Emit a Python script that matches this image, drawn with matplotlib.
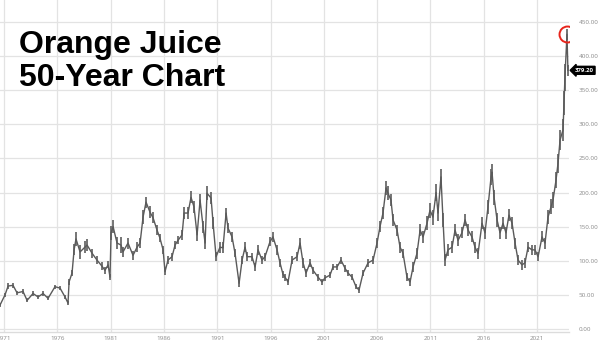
import matplotlib.pyplot as plt

# Orange juice futures, monthly-ish closes
years = [1970.62, 1971.09, 1971.38, 1971.84, 1972.22, 1972.78, 1973.16, 1973.72, 1974.19, 1974.66,
         1975.13, 1975.78, 1976.25, 1976.72, 1977.00, 1977.10, 1977.38, 1977.57, 1977.75, 1978.13,
         1978.60, 1978.79, 1979.26, 1979.72, 1980.19, 1980.47, 1980.76, 1980.94, 1981.04, 1981.23,
         1981.60, 1981.98, 1982.16, 1982.63, 1983.10, 1983.48, 1983.76, 1984.04, 1984.32, 1984.70,
         1984.98, 1985.35, 1985.63, 1985.92, 1986.10, 1986.38, 1986.76, 1987.04, 1987.32, 1987.70,
         1987.89, 1988.26, 1988.54, 1988.82, 1989.11, 1989.39, 1989.67, 1989.86, 1990.04, 1990.42,
         1990.61, 1990.89, 1991.26, 1991.54, 1991.83, 1992.01, 1992.39, 1992.67, 1993.05, 1993.33,
         1993.61, 1993.80, 1994.26, 1994.55, 1994.83, 1995.20, 1995.48, 1995.95, 1996.23, 1996.61,
         1996.89, 1997.17, 1997.36, 1997.64, 1998.02, 1998.49, 1998.77, 1999.05, 1999.33, 1999.71,
         1999.99, 2000.46, 2000.83, 2001.11, 2001.58, 2001.86, 2002.24, 2002.61, 2002.99, 2003.27,
         2003.65, 2004.02, 2004.30, 2004.68, 2005.15, 2005.62, 2005.99, 2006.27, 2006.55, 2006.84,
         2007.02, 2007.30, 2007.49, 2007.87, 2008.15, 2008.43, 2008.80, 2009.09, 2009.37, 2009.74,
         2010.03, 2010.31, 2010.68, 2010.96, 2011.24, 2011.53, 2011.71, 2011.99, 2012.18, 2012.37,
         2012.65, 2013.03, 2013.31, 2013.59, 2013.96, 2014.25, 2014.53, 2014.90, 2015.18, 2015.47,
         2015.84, 2016.12, 2016.40, 2016.69, 2016.78, 2016.97, 2017.25, 2017.53, 2017.81, 2018.09,
         2018.37, 2018.66, 2018.94, 2019.22, 2019.59, 2019.87, 2020.16, 2020.53, 2020.81, 2021.10,
         2021.47, 2021.75, 2022.03, 2022.31, 2022.50, 2022.78, 2022.97, 2023.16, 2023.44, 2023.53,
         2023.62, 2023.81, 2023.90]
prices = [35, 50, 63, 64, 53, 55, 42, 52, 47, 52,
          45, 62, 60, 47, 38, 69, 82, 116, 132, 113,
          120, 123, 111, 101, 92, 86, 94, 76, 141, 150,
          126, 123, 113, 126, 108, 120, 126, 164, 186, 171,
          163, 145, 133, 116, 84, 101, 106, 123, 130, 138,
          170, 170, 193, 179, 138, 189, 150, 126, 199, 192,
          155, 106, 120, 119, 170, 148, 135, 111, 67, 101,
          120, 106, 106, 91, 116, 101, 106, 128, 135, 116,
          97, 80, 76, 69, 101, 106, 126, 97, 82, 97,
          86, 76, 69, 75, 79, 91, 91, 101, 89, 82,
          76, 62, 57, 82, 97, 101, 126, 150, 170, 207,
          199, 189, 160, 145, 120, 111, 76, 69, 91, 111,
          145, 135, 155, 174, 164, 200, 170, 223, 160, 101,
          116, 120, 145, 130, 141, 160, 145, 135, 120, 111,
          155, 141, 179, 223, 230, 193, 160, 141, 155, 141,
          167, 155, 126, 101, 94, 97, 120, 116, 116, 106,
          135, 126, 164, 179, 189, 218, 243, 277, 292, 331,
          369, 432, 379.2]
# rough half-height of the price bars around each close
swing = [3, 3, 4, 4, 3, 3, 3, 3, 3, 3,
         3, 3, 3, 3, 3, 4, 5, 8, 10, 10,
         9, 9, 7, 6, 6, 5, 5, 4, 10, 10,
         9, 12, 7, 8, 7, 7, 7, 10, 8, 9,
         8, 7, 6, 6, 5, 6, 6, 6, 6, 7,
         9, 9, 9, 9, 9, 9, 9, 9, 10, 9,
         9, 7, 8, 8, 8, 7, 7, 6, 5, 6,
         7, 7, 6, 6, 7, 6, 6, 7, 7, 7,
         6, 5, 5, 5, 6, 7, 8, 7, 6, 6,
         5, 5, 4, 4, 4, 5, 5, 5, 5, 5,
         4, 4, 4, 5, 6, 6, 7, 8, 9, 10,
         10, 9, 9, 8, 8, 7, 6, 6, 7, 8,
         9, 9, 10, 11, 11, 12, 12, 12, 10, 9,
         9, 9, 9, 9, 8, 9, 9, 8, 8, 8,
         9, 9, 10, 12, 12, 11, 10, 9, 9, 9,
         9, 9, 8, 7, 7, 7, 7, 7, 7, 7,
         8, 8, 10, 11, 12, 12, 14, 15, 16, 18,
         20, 8, 8]

tick_years = [1971, 1976, 1981, 1986, 1991, 1996, 2001, 2006, 2011, 2016, 2021]
y_ticks = [0, 50, 100, 150, 200, 250, 300, 350, 400, 450]
last_price = 379.20

fig = plt.figure(figsize=(6, 3.46), dpi=100)
ax = fig.add_axes([0, 14 / 346, 569 / 600, 332 / 346])

lows = [p - s for p, s in zip(prices, swing)]
highs = [p + s for p, s in zip(prices, swing)]
ax.vlines(years, lows, highs, color='#6a6a6a', lw=1.3)
ax.plot(years, prices, color='#5a5a5a', lw=1.0)

# red ring round the all-time high
i_max = prices.index(max(prices))
ax.plot(years[i_max], prices[i_max], 'o', ms=11.5, mfc='none', mec='#e8241b', mew=1.4, zorder=5)

ax.set_xlim(1970.62, 2024.0)
ax.set_ylim(-4.4, 482.3)
ax.set_xticks(tick_years)
ax.set_xticklabels([str(t) for t in tick_years])
ax.set_yticks(y_ticks)
ax.set_yticklabels(['%.2f' % v for v in y_ticks])
ax.yaxis.tick_right()
ax.tick_params(axis='both', length=0, labelsize=4.5, labelcolor='#8a8a8a')
ax.tick_params(axis='y', pad=7)
ax.tick_params(axis='x', pad=3)
for lab in ax.get_xticklabels() + ax.get_yticklabels():
    lab.set_family('Open Sans')

ax.grid(True, color='#e3e3e3', lw=0.9)
ax.set_axisbelow(True)
for s in ['top', 'left', 'right']:
    ax.spines[s].set_visible(False)
ax.spines['bottom'].set_color('#dcdcdc')
ax.spines['bottom'].set_linewidth(1.0)

# last price tag
ax.annotate('%.2f' % last_price, xy=(1, last_price), xycoords=('axes fraction', 'data'),
            xytext=(4, 0), textcoords='offset points', va='center', ha='left',
            fontsize=4.3, fontweight='bold', color='white', family='Open Sans',
            bbox=dict(boxstyle='larrow,pad=0.25', fc='black', ec='black'))

fig.text(0.031, 0.913, 'Orange Juice\n50-Year Chart', fontsize=23, fontweight='bold',
         family='Liberation Sans', va='top', ha='left', linespacing=1.12)

fig.savefig('out.png', dpi=100)
